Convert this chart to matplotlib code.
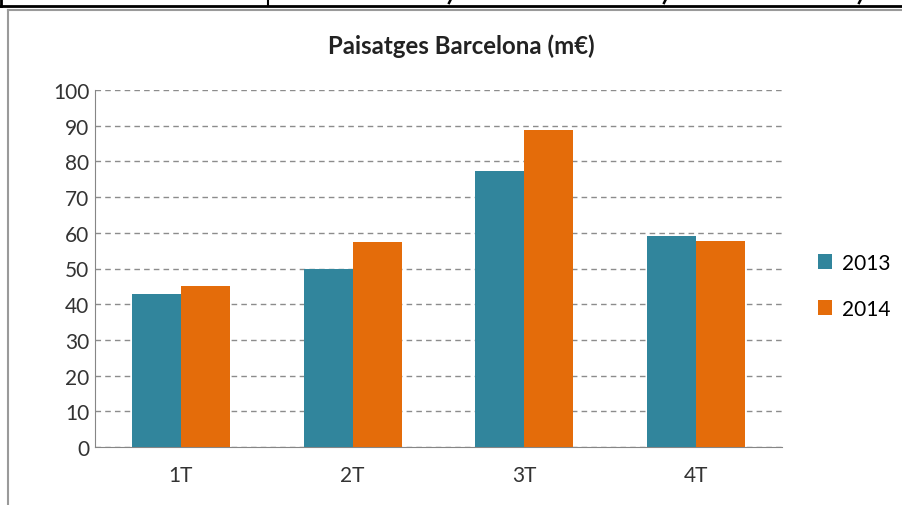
import matplotlib
matplotlib.use("Agg")
import matplotlib.pyplot as plt
import numpy as np
from matplotlib.lines import Line2D

categories = ["1T", "2T", "3T", "4T"]
series_names = ["2013", "2014"]
values_2013 = [42.8, 49.9, 77.2, 59.2]
values_2014 = [45.1, 57.4, 88.7, 57.8]
y_ticks = [0, 10, 20, 30, 40, 50, 60, 70, 80, 90, 100]
title = "Paisatges Barcelona (m€)"

colors = ["#31859C", "#E46C0A"]
plt.rcParams['font.family'] = ['Lato', 'DejaVu Sans']

fig = plt.figure(figsize=(9.03, 5.06), dpi=100)
ax = fig.add_axes([95/903, 1-448/506, (782-95)/903, (448-91)/506])

x = np.arange(len(categories))
w = 0.285
ax.bar(x - w/2, values_2013, width=w, color=colors[0], label=series_names[0], zorder=3)
ax.bar(x + w/2, values_2014, width=w, color=colors[1], label=series_names[1], zorder=3)

ax.set_xlim(-0.5, len(categories) - 0.5)
ax.set_ylim(0, 100)
ax.set_yticks(y_ticks)
ax.set_xticks(x)
ax.set_xticklabels(categories)
ax.tick_params(axis='both', length=0, labelsize=15, colors='#333333')
ax.tick_params(axis='x', pad=13)
ax.tick_params(axis='y', pad=4)
ax.yaxis.grid(True, linestyle=(0, (4, 3)), color='#8c8c8c', linewidth=1, zorder=0)
for s in ['top', 'right']:
    ax.spines[s].set_visible(False)
ax.spines['left'].set_color('#868686')
ax.spines['bottom'].set_color('#868686')

fig.text(461/903, 1-46/506, title, ha='center', va='center', fontsize=17.3, fontweight='bold', color='#222222')

ax.legend(loc='center left', bbox_to_anchor=(799/903, 1-287/506), bbox_transform=fig.transFigure,
          frameon=False, fontsize=15, handlelength=0.7, handleheight=0.7, handletextpad=0.45,
          labelspacing=1.25)

# surrounding frame and table border
T = fig.transFigure
fig.add_artist(Line2D([0, 1], [1-7/506, 1-7/506], color='black', lw=2, transform=T))
fig.add_artist(Line2D([268/903, 268/903], [1-7/506, 1], color='black', lw=1.5, transform=T))
fig.add_artist(Line2D([1/903, 1/903], [1-7/506, 1], color='black', lw=2, transform=T))
fig.add_artist(Line2D([8/903, 8/903], [0, 1-11/506], color='#9a9a9a', lw=1.5, transform=T))
fig.add_artist(Line2D([8/903, 1], [1-11/506, 1-11/506], color='#9a9a9a', lw=1.5, transform=T))
# fragments of cut-off commas from the table row above
for cx in [450, 665, 860]:
    fig.add_artist(Line2D([(cx + 1)/903, (cx - 1)/903], [1, 1-4/506], color='black', lw=1.8, transform=T))

fig.savefig("out.png", dpi=100)
